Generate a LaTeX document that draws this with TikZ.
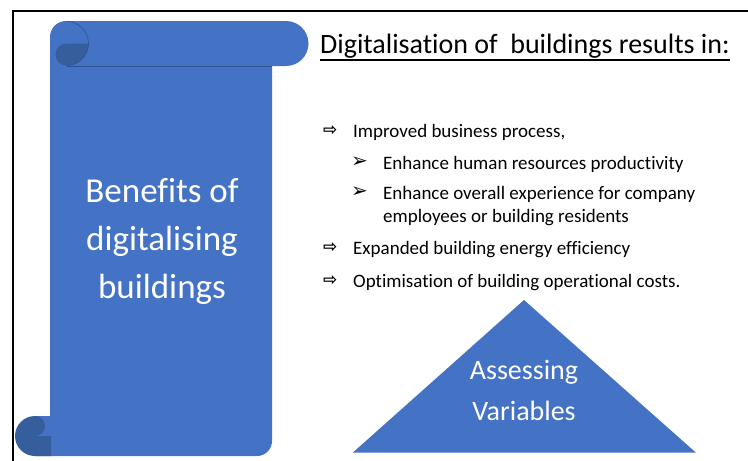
\documentclass[tikz,border=0pt]{standalone}
\usepackage{fontspec}
\setmainfont{Carlito}[Ligatures={NoCommon,NoRequired,NoContextual},RawFeature={-liga;-clig;-dlig;-calt}]
\newfontfamily\symfont{DejaVu Sans Bold}
\definecolor{scrollblue}{HTML}{4472C4}
\definecolor{curldark}{HTML}{365D9C}
\definecolor{curlline}{HTML}{2F528F}
\tikzset{
  lvlone/.style={anchor=base west, inner sep=0pt, font=\fontsize{19}{23}\selectfont},
  lvltwo/.style={anchor=base west, inner sep=0pt, font=\fontsize{19}{23}\selectfont},
  arrowmark/.style={anchor=base west, inner sep=0pt, font=\symfont\fontsize{17}{19}\selectfont},
  headmark/.style={anchor=base west, inner sep=0pt, font=\symfont\fontsize{20}{22}\selectfont},
  whitetxt/.style={anchor=base, inner sep=0pt, text=white},
}
\begin{document}
\begin{tikzpicture}[x=1pt,y=1pt]
\useasboundingbox (0,0) rectangle (748,-461);
% frame
\draw[line width=2.2pt] (13,-463) -- (13,-11) -- (750,-11);
% scroll body
\fill[scrollblue] (50,-416) -- (50,-37) arc[start angle=180,end angle=90,radius=16pt]
  -- (286,-21) arc[start angle=90,end angle=-90,radius=22.5pt]
  -- (272,-66) -- (272,-441) arc[start angle=0,end angle=-90,radius=15pt]
  -- (35,-456) -- (35,-416) -- (51,-416) -- cycle;
% top curl
\fill[curldark] (66.5,-43.5) -- (88.5,-43.5) arc[start angle=0,end angle=-90,radius=22pt]
  arc[start angle=270,end angle=90,radius=11pt] -- cycle;
\draw[curlline, line width=0.6pt] (66.5,-21.5) arc[start angle=90,end angle=-90,radius=22pt];
\draw[curlline, line width=0.6pt] (66.5,-65.8) -- (272,-65.8);
% bottom curl
\fill[curldark] (35,-416) arc[start angle=90,end angle=270,radius=20pt] -- (51,-456) -- (51,-436)
  -- (35,-436) arc[start angle=-90,end angle=90,radius=10pt] -- cycle;
% scroll text
\node[whitetxt, font=\fontsize{35}{48}\selectfont] (ben1) at (162,-202) {Benefits of};
\node[whitetxt, font=\fontsize{35}{48}\selectfont] (ben2) at (162,-250) {digitalising};
\node[whitetxt, font=\fontsize{35}{48}\selectfont] (ben3) at (162,-298) {buildings};
% title
\node[anchor=base west, inner sep=0pt, font=\fontsize{28}{34}\selectfont] (title) at (320,-53) {Digitalisation of\ \ buildings results in:};
\draw[line width=1.4pt] ([yshift=-7pt]title.base west) -- ([yshift=-7pt]title.base east);
% bullets
\node[arrowmark] (a1) at (323,-135) {⇨};
\node[lvlone] (b1) at (353,-137) {Improved business process,};
\node[headmark] (a2) at (351,-167) {➢};
\node[lvltwo] (b2) at (383,-169) {Enhance human resources productivity};
\node[headmark] (a3) at (351,-197) {➢};
\node[lvltwo] (b3) at (383,-199) {Enhance overall experience for company};
\node[lvltwo] (b4) at (383,-222) {employees or building residents};
\node[arrowmark] (a4) at (323,-252) {⇨};
\node[lvlone] (b5) at (353,-254) {Expanded building energy efficiency};
\node[arrowmark] (a5) at (323,-285) {⇨};
\node[lvlone] (b6) at (353,-287) {Optimisation of building operational costs.};
% triangle
\fill[scrollblue] (524,-300) -- (696,-452.7) -- (352.7,-452.7) -- cycle;
\node[whitetxt, font=\fontsize{28}{34}\selectfont] (tri1) at (524,-379) {Assessing};
\node[whitetxt, font=\fontsize{28}{34}\selectfont] (tri2) at (524,-420) {Variables};
\end{tikzpicture}
\end{document}
